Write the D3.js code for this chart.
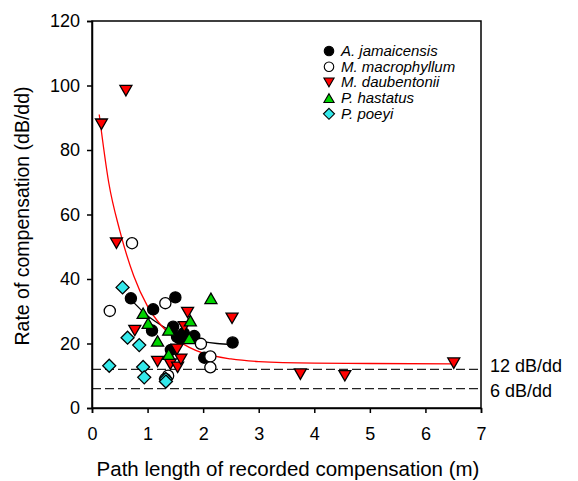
<!DOCTYPE html>
<html>
<head>
<meta charset="utf-8">
<script src="https://cdn.jsdelivr.net/npm/d3@7"></script>
<style>
  body { margin: 0; background: #fff; }
  svg { font-family: Arial, "Liberation Sans", sans-serif; }
</style>
</head>
<body>
<svg id="chart" width="578" height="481"></svg>
<script>
// data: [path length (m), rate (dB/dd)]
const jamaicensis = [[0.70,34.0],[1.10,30.6],[1.08,24.0],[1.50,34.3],[1.46,25.2],[1.53,22.1],
  [1.65,23.2],[1.58,21.5],[1.84,22.3],[2.02,15.6],[2.53,20.3],[1.42,18.0]];
const macrophyllum = [[0.32,30.1],[0.72,51.1],[1.32,32.5],[1.96,19.9],[2.13,16.0],[2.13,12.6],
  [1.37,10.0],[1.32,9.0]];
const daubentonii = [[0.17,88.0],[0.61,98.4],[0.44,51.1],[0.77,24.0],[1.18,14.4],[1.41,13.6],
  [1.54,12.6],[1.60,15.1],[1.53,18.2],[1.66,25.2],[1.72,29.6],[2.52,27.8],[3.75,10.5],
  [4.55,10.0],[6.51,13.9]];
const hastatus = [[0.92,29.4],[1.01,26.3],[1.18,20.8],[1.38,24.2],[1.38,16.7],[1.77,27.1],
  [1.75,21.6],[2.14,34.0]];
const poeyi = [[0.55,37.4],[0.64,21.8],[0.85,19.5],[0.31,13.1],[0.92,12.7],[0.94,9.5],
  [1.33,9.0],[1.33,8.2]];

// fitted curves
const redFit = [[0.13,91],[0.3,70],[0.5,55],[0.75,41],[1,31.5],[1.25,25.5],[1.5,21.5],
  [1.75,18.8],[2,17],[2.5,15.2],[3,14.4],[4,13.9],[5,13.8],[6.5,13.7]];
const blackFit = [[0.68,34],[1,28.6],[1.25,25.6],[1.5,23.2],[1.75,21.6],[2,20.6],[2.25,20],[2.52,19.7]];

const refLines = [12, 6];
const refLabels = ["12 dB/dd", "6 dB/dd"];
const xTicks = [0,1,2,3,4,5,6,7];
const yTicks = [0,20,40,60,80,100,120];

const series = [
  {name: "A. jamaicensis", data: jamaicensis, shape: "circle", fill: "#000"},
  {name: "M. macrophyllum", data: macrophyllum, shape: "circle", fill: "#fff"},
  {name: "M. daubentonii", data: daubentonii, shape: "down", fill: "#ff0000"},
  {name: "P. hastatus", data: hastatus, shape: "up", fill: "#00d400"},
  {name: "P. poeyi", data: poeyi, shape: "diamond", fill: "#33e8ea"}
];

const margin = {left: 92, right: 97, top: 21, bottom: 73};
const svg = d3.select("#chart");
const W = 578 - margin.left - margin.right;
const H = 481 - margin.top - margin.bottom;

const x = d3.scaleLinear().domain([0, 7]).range([0, W]);
const y = d3.scaleLinear().domain([0, 120]).range([H, 0]);

const g = svg.append("g").attr("transform", "translate(" + margin.left + "," + margin.top + ")");

function symbolPath(shape) {
  if (shape == "circle") return d3.symbol(d3.symbolCircle, 98)();
  if (shape == "diamond") return "M0,-6.5L6.5,0L0,6.5L-6.5,0Z";
  if (shape == "up") return "M0,-5.2L6,5.2L-6,5.2Z";
  return "M0,5.2L6,-5.2L-6,-5.2Z";
}

// reference lines
const labelShift = [3, 8];
refLines.forEach((v, i) => {
  g.append("line")
    .attr("x1", 0).attr("x2", W)
    .attr("y1", y(v)).attr("y2", y(v))
    .attr("stroke", "#222").attr("stroke-width", 1.3)
    .attr("stroke-dasharray", "9,4");
  g.append("text")
    .attr("x", W + 9).attr("y", y(v) + labelShift[i])
    .attr("font-size", 18)
    .text(refLabels[i]);
});

// fitted curves
const line = d3.line().x(d => x(d[0])).y(d => y(d[1])).curve(d3.curveMonotoneX);
g.append("path").datum(blackFit).attr("d", line)
  .attr("fill", "none").attr("stroke", "#000").attr("stroke-width", 1.3);
g.append("path").datum(redFit).attr("d", line)
  .attr("fill", "none").attr("stroke", "#ff0000").attr("stroke-width", 1.3);

// points
series.forEach(s => {
  g.append("g").selectAll("path")
    .data(s.data)
    .enter()
    .append("path")
      .attr("d", symbolPath(s.shape))
      .attr("transform", d => "translate(" + x(d[0]) + "," + y(d[1]) + ")")
      .attr("fill", s.fill)
      .attr("stroke", "#000")
      .attr("stroke-width", 1.3);
});

// frame
g.append("rect").attr("width", W).attr("height", H)
  .attr("fill", "none").attr("stroke", "#000").attr("stroke-width", 1.5);

// axes
const xAxis = g.append("g").attr("transform", "translate(0," + H + ")")
  .call(d3.axisBottom(x).tickValues(xTicks).tickFormat(d3.format("d")).tickSize(5).tickPadding(14));
const yAxis = g.append("g")
  .call(d3.axisLeft(y).tickValues(yTicks).tickFormat(d3.format("d")).tickSize(5).tickPadding(7));
[xAxis, yAxis].forEach(a => {
  a.select(".domain").attr("stroke-width", 1.5);
  a.selectAll(".tick line").attr("stroke-width", 1.5);
  a.selectAll("text").attr("font-size", 18).attr("font-family", "Arial, 'Liberation Sans', sans-serif").attr("fill", "#000");
});

// axis titles
svg.append("text")
  .attr("x", 288).attr("y", 476)
  .attr("text-anchor", "middle").attr("font-size", 20.5)
  .text("Path length of recorded compensation (m)");
svg.append("text")
  .attr("transform", "translate(28.5,216) rotate(-90)")
  .attr("text-anchor", "middle").attr("font-size", 19.5)
  .text("Rate of compensation (dB/dd)");

// legend
const legend = g.append("g").attr("transform", "translate(237,30)");
series.forEach((s, i) => {
  const row = legend.append("g").attr("transform", "translate(0," + (i * 15.7) + ")");
  row.append("path")
    .attr("d", symbolPath(s.shape))
    .attr("transform", "scale(0.85)")
    .attr("fill", s.fill).attr("stroke", "#000").attr("stroke-width", 1.3);
  row.append("text")
    .attr("x", 12).attr("y", 5)
    .attr("font-size", 15).attr("font-style", "italic")
    .text(s.name);
});
</script>
</body>
</html>
